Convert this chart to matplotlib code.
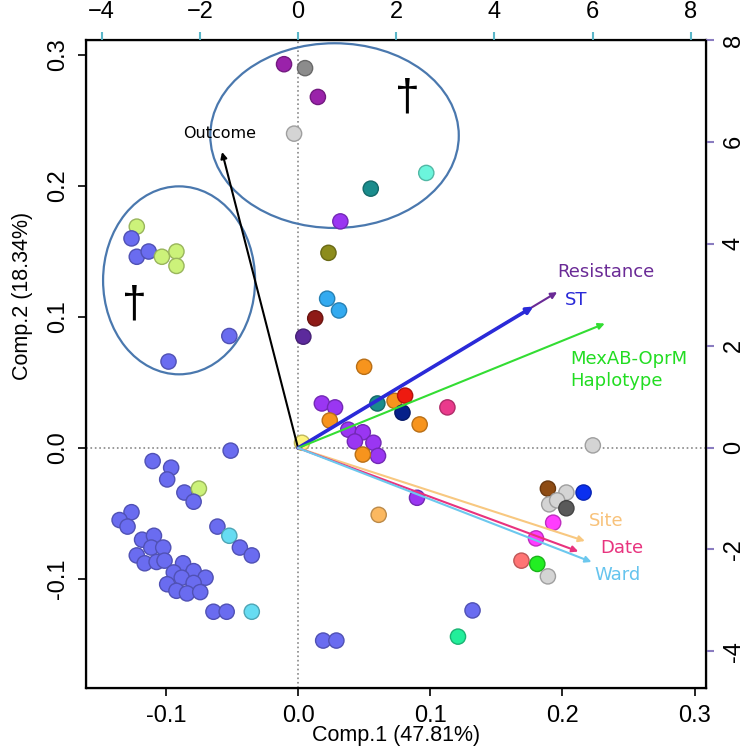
import numpy as np
import matplotlib.pyplot as plt
import matplotlib.colors as mcolors
from matplotlib.patches import Ellipse

# colour keys used by the scores
palette = {
    'blue': '#6a6cf0', 'yg': '#ccf27a', 'purple': '#9a22aa', 'grey': '#8c8c8c',
    'lgrey': '#d4d4d4', 'teal': '#1a8c8c', 'aqua': '#6cf5dc', 'violet': '#9a36f2',
    'olive': '#8c8c1c', 'sky': '#33aaf0', 'dred': '#8e1a16', 'indigo': '#5c2a9c',
    'orange': '#f7941d', 'lorange': '#fbb860', 'red': '#ee1a10', 'navy': '#06208a',
    'pink': '#ea3a8c', 'yellow': '#fff47c', 'brown': '#8e4c14', 'bblue': '#0a30f0',
    'dgrey': '#5a5a5a', 'magenta': '#ff3cff', 'salmon': '#ff7474', 'green': '#22ee22',
    'mint': '#22ee9a', 'cyan': '#66dcf2',
}

# scores on Comp.1 / Comp.2
pc1 = [-0.0106, 0.0053, 0.015, -0.003, 0.055, 0.097, 0.032,
       -0.122, -0.126, -0.122, -0.113, -0.103, -0.092, -0.092, -0.052, -0.098,
       0.023, 0.022, 0.031, 0.013, 0.004, 0.050, 0.018, 0.028, 0.024, 0.060,
       0.073, 0.081, 0.079, 0.113, 0.092, 0.038, 0.049, 0.043, 0.057, 0.0605,
       0.049, 0.003, 0.223, 0.090, 0.061,
       0.189, 0.203, 0.216, 0.190, 0.196, 0.203, 0.193, 0.180, 0.169, 0.181, 0.189,
       0.132, 0.121, 0.019, 0.029,
       -0.051, -0.110, -0.096, -0.099, -0.086, -0.075, -0.079, -0.126, -0.135, -0.129,
       -0.061, -0.052, -0.044, -0.035, -0.118, -0.109, -0.111, -0.102, -0.122, -0.116,
       -0.107, -0.101, -0.087, -0.094, -0.079, -0.070, -0.088, -0.079, -0.099, -0.092,
       -0.084, -0.074, -0.064, -0.054, -0.035]
pc2 = [0.293, 0.290, 0.268, 0.240, 0.198, 0.210, 0.173,
       0.169, 0.160, 0.146, 0.150, 0.146, 0.150, 0.139, 0.0855, 0.066,
       0.149, 0.114, 0.105, 0.099, 0.085, 0.062, 0.034, 0.031, 0.021, 0.034,
       0.036, 0.040, 0.027, 0.031, 0.018, 0.014, 0.012, 0.005, 0.004, -0.006,
       -0.005, 0.004, 0.002, -0.038, -0.051,
       -0.031, -0.034, -0.034, -0.043, -0.040, -0.046, -0.057, -0.069, -0.086, -0.0885, -0.098,
       -0.124, -0.144, -0.147, -0.147,
       -0.002, -0.010, -0.015, -0.024, -0.034, -0.031, -0.041, -0.049, -0.055, -0.060,
       -0.060, -0.067, -0.076, -0.082, -0.070, -0.067, -0.076, -0.076, -0.082, -0.088,
       -0.087, -0.086, -0.088, -0.095, -0.094, -0.099, -0.099, -0.103, -0.104, -0.109,
       -0.111, -0.110, -0.125, -0.125, -0.125]
groups = ['purple', 'grey', 'purple', 'lgrey', 'teal', 'aqua', 'violet',
          'yg', 'blue', 'blue', 'blue', 'yg', 'yg', 'yg', 'blue', 'blue',
          'olive', 'sky', 'sky', 'dred', 'indigo', 'orange', 'violet', 'violet', 'orange', 'teal',
          'orange', 'red', 'navy', 'pink', 'orange', 'violet', 'violet', 'violet', 'violet', 'violet',
          'orange', 'yellow', 'lgrey', 'violet', 'lorange',
          'brown', 'lgrey', 'bblue', 'lgrey', 'lgrey', 'dgrey', 'magenta', 'magenta', 'salmon', 'green', 'lgrey',
          'blue', 'mint', 'blue', 'blue',
          'blue', 'blue', 'blue', 'blue', 'blue', 'yg', 'blue', 'blue', 'blue', 'blue',
          'blue', 'cyan', 'blue', 'blue', 'blue', 'blue', 'blue', 'blue', 'blue', 'blue',
          'blue', 'blue', 'blue', 'blue', 'blue', 'blue', 'blue', 'blue', 'blue', 'blue',
          'blue', 'blue', 'blue', 'blue', 'cyan']

# loadings (arrows)
var_names = ['Outcome', 'Resistance', 'ST', 'MexAB-OprM\nHaplotype', 'Site', 'Date', 'Ward']
var_x = [-0.0575, 0.196, 0.178, 0.232, 0.217, 0.212, 0.222]
var_y = [0.226, 0.119, 0.108, 0.095, -0.071, -0.079, -0.087]
var_colors = ['#000000', '#6a2a96', '#2a2ad8', '#33dd33', '#f8c880', '#e8337e', '#6cc8ee']
label_colors = ['#000000', '#6a2a96', '#2a2ad8', '#22dd22', '#f8c27a', '#e8337e', '#66c4ee']
label_x = [-0.059, 0.196, 0.202, 0.206, 0.233, 0.245, 0.242]
label_y = [0.240, 0.134, 0.113, 0.0595, -0.056, -0.076, -0.097]

ellipse_centres = [(0.0276, 0.2385), (-0.090, 0.128)]
ellipse_sizes = [(0.188, 0.141), (0.115, 0.1435)]
dagger_pos = [(0.083, 0.267), (-0.124, 0.109)]

plt.rcParams['font.family'] = ['Liberation Sans', 'DejaVu Sans']

fig = plt.figure(figsize=(7.5, 7.5), dpi=100)
ax = fig.add_axes([0.1147, 0.0827, 0.8266, 0.864])
ax.set_xlim(-0.1604, 0.3086)
ax.set_ylim(-0.1832, 0.3115)

ax.axhline(0, color='#888888', ls=':', lw=1.2, zorder=1)
ax.axvline(0, color='#888888', ls=':', lw=1.2, zorder=1)

for (cx, cy), (w, h) in zip(ellipse_centres, ellipse_sizes):
    ax.add_patch(Ellipse((cx, cy), w, h, fill=False, ec='#4a78ae', lw=1.6, zorder=2))

fills = [palette[g] for g in groups]
edges = [tuple(np.array(mcolors.to_rgb(c)) * 0.75) for c in fills]
ax.scatter(pc1, pc2, s=120, c=fills, edgecolors=edges, linewidths=1.0, zorder=3)

for i, name in enumerate(var_names):
    lw = 2.6 if name == 'ST' else 1.5
    ax.annotate('', xy=(var_x[i], var_y[i]), xytext=(0, 0),
                arrowprops=dict(arrowstyle='-|>', color=var_colors[i], lw=lw,
                                mutation_scale=9, shrinkA=0, shrinkB=0), zorder=4)
    ha = 'left'
    if name in ('Outcome', 'Site', 'Date', 'Ward'):
        ha = 'center'
    ax.text(label_x[i], label_y[i], name, color=label_colors[i],
            fontsize=11.5 if name == 'Outcome' else 13, ha=ha, va='center',
            family='DejaVu Sans', linespacing=1.3, zorder=5)

for dx, dy in dagger_pos:
    ax.text(dx, dy, '\u2020', fontsize=32, ha='center', va='center',
            family='Liberation Sans', zorder=5)

ax.set_xticks([-0.1, 0.0, 0.1, 0.2, 0.3])
ax.set_yticks([-0.1, 0.0, 0.1, 0.2, 0.3])
ax.set_xticklabels(['-0.1', '0.0', '0.1', '0.2', '0.3'])
ax.set_yticklabels(['-0.1', '0.0', '0.1', '0.2', '0.3'], rotation=90, va='center')
ax.tick_params(direction='out', length=6, width=1.2, labelsize=17, pad=6)
ax.set_xlabel('Comp.1 (47.81%)', fontsize=15.5)
ax.set_ylabel('Comp.2 (18.34%)', fontsize=15.5)
ax.xaxis.label.set_va('center')
ax.yaxis.label.set_va('center')
ax.xaxis.set_label_coords(0.5, -0.074)
ax.yaxis.set_label_coords(-0.103, 0.605)
for sp in ax.spines.values():
    sp.set_linewidth(1.6)

# top and right axes for the loadings
top = ax.twiny()
top.set_xlim(-4.32, 8.31)
top.set_xticks([-4, -2, 0, 2, 4, 6, 8])
top.tick_params(direction='out', length=6, width=1.5, color='#5ab6c8', labelsize=17, pad=6)
right = ax.twinx()
right.set_ylim(-4.72, 8.0)
right.set_yticks([-4, -2, 0, 2, 4, 6, 8])
right.set_yticklabels(['-4', '-2', '0', '2', '4', '6', '8'], rotation=90, va='center')
right.tick_params(direction='out', length=6, width=1.5, color='#8a7cc0', labelsize=17, pad=6)

fig.savefig('out.png', dpi=100)
